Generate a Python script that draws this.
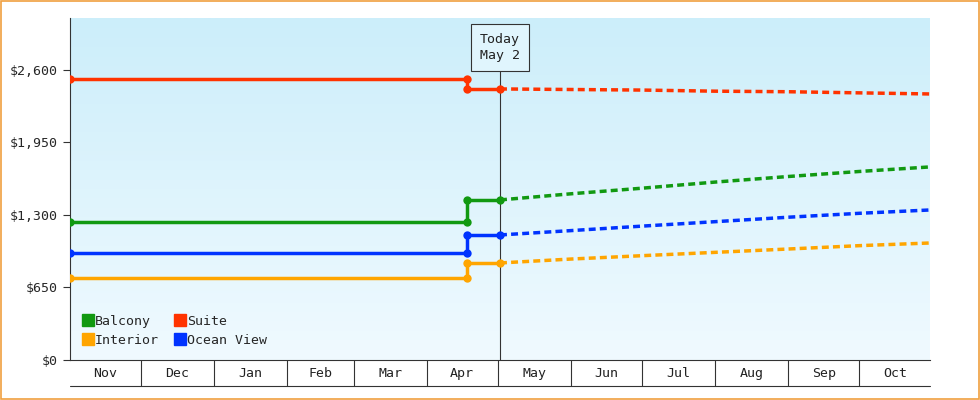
import numpy as np, pandas as pd, matplotlib
matplotlib.use("Agg")
import matplotlib.pyplot as plt, seaborn as sns, matplotlib.dates as mdates

sns.set_style("white")
plt.rcParams['font.family'] = ['DejaVu Sans Mono']

months = ["Nov","Dec","Jan","Feb","Mar","Apr","May","Jun","Jul","Aug","Sep","Oct"]
hist_dates = ["2024-11-01","2025-04-18","2025-04-18","2025-05-02"]
fc_dates = ["2025-05-02","2025-06-01","2025-07-01","2025-08-01","2025-09-01","2025-10-01","2025-10-31"]
series = ["Balcony","Interior","Suite","Ocean View"]
colors = {"Balcony":"#119911","Interior":"#FFA500","Suite":"#FF3300","Ocean View":"#0033FF"}
hist = {"Balcony":[1238,1238,1435,1435],"Interior":[735,735,870,870],
        "Suite":[2520,2520,2430,2430],"Ocean View":[960,960,1121,1121]}
fc = {"Balcony":[1435,1490,1540,1595,1645,1690,1731],"Interior":[870,905,935,965,995,1025,1049],
      "Suite":[2430,2425,2420,2410,2405,2395,2385],"Ocean View":[1121,1160,1200,1240,1280,1315,1345]}

fig = plt.figure(figsize=(9.8,4.0), dpi=100)
ax = fig.add_axes([70/980, 40/400, 860/980, 342/400])
x0, x1 = mdates.date2num(pd.Timestamp("2024-11-01")), mdates.date2num(pd.Timestamp("2025-11-01"))
grad = np.linspace(0,1,256).reshape(-1,1)
from matplotlib.colors import LinearSegmentedColormap
cm = LinearSegmentedColormap.from_list("g", ["#F0FAFF","#CCEEFA"])
ax.imshow(grad, cmap=cm, aspect="auto", extent=[x0,x1,0,3066], origin="lower", zorder=0)

rows=[]
for s in series:
    for d,v in zip(hist_dates,hist[s]): rows.append(dict(date=pd.Timestamp(d),val=v,s=s,kind="h"))
    for d,v in zip(fc_dates,fc[s]): rows.append(dict(date=pd.Timestamp(d),val=v,s=s,kind="f"))
df = pd.DataFrame(rows)
df["x"] = mdates.date2num(df["date"])
for s in series:
    h = df[(df.s==s)&(df.kind=="h")]
    sns.lineplot(data=h, x="x", y="val", ax=ax, color=colors[s], lw=2.5, sort=False,
                 marker="o", markersize=6, markeredgewidth=0, estimator=None, zorder=3)
    f = df[(df.s==s)&(df.kind=="f")]
    sns.lineplot(data=f, x="x", y="val", ax=ax, color=colors[s], lw=2.5, ls=(0,(2,1.2)),
                 sort=False, estimator=None, zorder=3)
    ax.plot([], [], ls="none", marker="s", color=colors[s], markersize=9, label=s)

ax.set_xlim(x0, mdates.date2num(pd.Timestamp("2025-10-31")))
ax.set_ylim(0, 3066)
ax.set_yticks([0,650,1300,1950,2600])
ax.set_yticklabels(["$0","$650","$1,300","$1,950","$2,600"], fontsize=9.5)
ax.tick_params(axis="y", length=5, left=True, color="#333")
ax.set_xticks([]); ax.set_xlabel(""); ax.set_ylabel("")
for sp in ["top","right"]: ax.spines[sp].set_visible(False)
ax.spines["left"].set_color("#333"); ax.spines["bottom"].set_color("#333")

today = mdates.date2num(pd.Timestamp("2025-05-02"))
ax.axvline(today, color="#333", lw=0.8, zorder=2, ymax=0.88)
ax.text(today, 2800, "Today\nMay 2", ha="center", va="center", fontsize=9.5, color="#222",
        linespacing=1.3, bbox=dict(boxstyle="square,pad=0.7", fc="#E0F5FD", ec="#333", lw=0.8), zorder=5)

trans = ax.get_xaxis_transform()
starts = pd.date_range("2024-11-01", periods=13, freq="MS")
sx = mdates.date2num(starts)
for i,m in enumerate(months):
    ax.text((sx[i]+sx[i+1])/2, -0.04, m, transform=trans, ha="center", va="center", fontsize=9.5, color="#222")
for x in sx[1:-1]:
    ax.plot([x,x],[0,-0.075], transform=trans, color="#333", lw=0.8, clip_on=False)
ax.plot([x0, mdates.date2num(pd.Timestamp("2025-10-31"))],[-0.075,-0.075], transform=trans, color="#333", lw=0.8, clip_on=False)

ax.legend(loc="lower left", ncol=2, frameon=False, fontsize=9.5, handletextpad=0.1,
          columnspacing=1.2, borderaxespad=0.6, handlelength=0.8, labelspacing=0.45)
fig.patches.append(plt.Rectangle((0.001,0.002),0.998,0.996, transform=fig.transFigure,
                                 fill=False, ec="#F0A040", lw=1.2))
fig.savefig("out.png", dpi=100, facecolor="white")
